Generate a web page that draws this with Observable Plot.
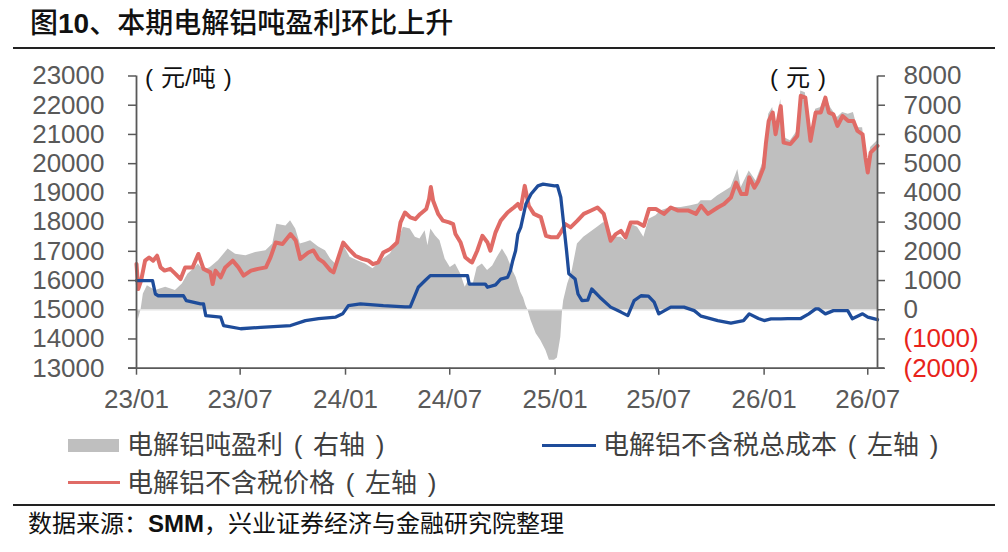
<!DOCTYPE html>
<html>
<head>
<meta charset="utf-8">
<script src="https://cdn.jsdelivr.net/npm/d3@7"></script>
<script src="https://cdn.jsdelivr.net/npm/@observablehq/plot@0.6"></script>
<style>
  html, body { margin: 0; padding: 0; background: #fff; }
  #wrap { position: relative; width: 1008px; height: 552px; overflow: hidden;
    font-family: "Liberation Sans", Arial, "Noto Sans CJK SC", sans-serif; }
  .abs { position: absolute; white-space: nowrap; line-height: 1; }
  #title { left: 30px; top: 10px; font-size: 28px; color: #111; font-weight: 500; }
  #title b { font-family: "Liberation Sans", Arial, sans-serif; }
  .hr { position: absolute; left: 13px; width: 982px; height: 1.5px; background: #222; }
  #chart { position: absolute; left: 0; top: 50px; }
  .unit { font-size: 24px; color: #111; }
  .leg { font-size: 26px; color: #404040; }
  .p { display: inline-block; width: 30px; text-align: center; font-family: "Liberation Sans", Arial, sans-serif; }
  .unit .p { width: 24px; }
  .sw { position: absolute; }
  #src { left: 28px; top: 512px; font-size: 24px; color: #111; }
  #src b { font-family: "Liberation Sans", Arial, sans-serif; }
</style>
</head>
<body>
<div id="wrap">
  <div id="title" class="abs">图<b>10</b>、本期电解铝吨盈利环比上升</div>
  <div class="hr" style="top:47px"></div>
  <div id="chart"></div>
  <div class="abs unit" style="left:137px; top:66px;"><span class="p">(</span>元/吨<span class="p">)</span></div>
  <div class="abs unit" style="left:762px; top:66px;"><span class="p">(</span>元<span class="p">)</span></div>

  <div class="sw" style="left:68px; top:439px; width:51px; height:13px; background:#BFBFBF;"></div>
  <div class="abs leg" style="left:127px; top:432px;">电解铝吨盈利<span class="p">(</span>右轴<span class="p">)</span></div>
  <div class="sw" style="left:542px; top:444px; width:54px; height:3px; background:#1E4C9A;"></div>
  <div class="abs leg" style="left:603px; top:432px;">电解铝不含税总成本<span class="p">(</span>左轴<span class="p">)</span></div>
  <div class="sw" style="left:68px; top:481px; width:52px; height:3px; background:#E06B66;"></div>
  <div class="abs leg" style="left:127px; top:470px;">电解铝不含税价格<span class="p">(</span>左轴<span class="p">)</span></div>

  <div class="hr" style="top:504px"></div>
  <div id="src" class="abs">数据来源：<b>SMM</b>，兴业证券经济与金融研究院整理</div>
</div>
<script>
// ---- data ----
const price = [
  ["2023-01-01",16570],["2023-01-04",15710],["2023-01-09",16000],["2023-01-16",16680],["2023-01-23",16790],
  ["2023-01-30",16680],["2023-02-06",16850],["2023-02-12",16450],["2023-02-19",16340],["2023-03-01",16400],
  ["2023-03-10",16230],["2023-03-19",16050],["2023-03-27",16450],["2023-04-09",16450],["2023-04-19",16910],
  ["2023-04-28",16400],["2023-05-10",16280],["2023-05-14",15880],["2023-05-19",16340],["2023-05-28",16110],
  ["2023-06-05",16450],["2023-06-18",16680],["2023-06-28",16450],["2023-07-07",16170],["2023-07-20",16340],
  ["2023-08-01",16400],["2023-08-15",16450],["2023-08-23",16790],["2023-09-01",17300],["2023-09-13",17250],
  ["2023-09-27",17590],["2023-10-06",17370],["2023-10-14",16740],["2023-10-28",16960],["2023-11-06",17030],
  ["2023-11-15",16740],["2023-11-24",16620],["2023-12-06",16340],["2023-12-11",16280],["2023-12-28",17300],
  ["2024-01-09",17030],["2024-01-18",16850],["2024-01-30",16740],["2024-02-10",16680],["2024-02-18",16560],
  ["2024-02-27",16620],["2024-03-07",16960],["2024-03-19",17080],["2024-03-31",17300],["2024-04-06",17990],
  ["2024-04-14",18330],["2024-04-23",18160],["2024-05-02",18100],["2024-05-10",18270],["2024-05-21",18450],
  ["2024-05-26",18800],["2024-05-29",19200],["2024-06-02",18730],["2024-06-11",18270],["2024-06-19",18050],
  ["2024-06-30",17990],["2024-07-07",17930],["2024-07-11",17590],["2024-07-20",17300],["2024-07-28",16800],
  ["2024-08-06",16650],["2024-08-09",16620],["2024-08-18",17020],["2024-08-27",17530],["2024-09-05",17300],
  ["2024-09-10",17020],["2024-09-19",17650],["2024-09-28",18050],["2024-10-10",18330],["2024-10-21",18500],
  ["2024-10-28",18620],["2024-11-02",18450],["2024-11-09",19240],["2024-11-16",18560],["2024-11-25",18280],
  ["2024-12-07",18170],["2024-12-16",17530],["2024-12-25",17480],["2025-01-05",17480],["2025-01-11",17650],
  ["2025-01-19",17930],["2025-01-28",17820],["2025-02-09",18050],["2025-02-20",18280],["2025-03-04",18390],
  ["2025-03-16",18500],["2025-03-27",18280],["2025-04-08",17360],["2025-04-17",17590],["2025-04-26",17700],
  ["2025-05-04",17480],["2025-05-13",17990],["2025-05-25",17990],["2025-06-05",17870],["2025-06-14",18450],
  ["2025-06-26",18450],["2025-07-10",18280],["2025-07-22",18500],["2025-08-03",18400],["2025-08-21",18400],
  ["2025-09-04",18280],["2025-09-13",18560],["2025-09-25",18280],["2025-10-12",18500],["2025-10-23",18620],
  ["2025-11-04",18840],["2025-11-13",19350],["2025-11-22",18960],["2025-12-01",18960],["2025-12-06",19530],
  ["2025-12-15",19180],["2025-12-22",19410],["2025-12-31",19870],["2026-01-04",20670],["2026-01-09",21460],
  ["2026-01-16",21750],["2026-01-21",21010],["2026-01-30",21970],["2026-02-04",20720],["2026-02-16",20670],
  ["2026-02-28",20950],["2026-03-06",22320],["2026-03-14",22260],["2026-03-23",20780],["2026-04-01",21750],
  ["2026-04-10",21750],["2026-04-18",22260],["2026-04-24",21750],["2026-05-02",21690],["2026-05-09",21290],
  ["2026-05-18",21630],["2026-05-28",21460],["2026-06-06",21460],["2026-06-13",21120],["2026-06-22",21000],
  ["2026-06-27",20210],["2026-07-01",19700],["2026-07-06",20380],["2026-07-18",20610]
];
const cost = [
  ["2023-01-01",16000],["2023-01-29",16000],["2023-02-03",15540],["2023-02-08",15480],["2023-03-24",15480],
  ["2023-03-29",15310],["2023-04-23",15200],["2023-04-28",15200],["2023-05-02",14800],["2023-05-28",14750],
  ["2023-06-02",14460],["2023-07-02",14350],["2023-08-06",14400],["2023-09-27",14460],["2023-10-23",14630],
  ["2023-11-15",14700],["2023-12-15",14750],["2023-12-27",14860],["2024-01-06",15140],["2024-01-27",15200],
  ["2024-03-07",15140],["2024-04-14",15100],["2024-04-23",15100],["2024-05-07",15770],["2024-05-19",16000],
  ["2024-05-28",16170],["2024-08-01",16170],["2024-08-04",15880],["2024-09-01",15880],["2024-09-05",15770],
  ["2024-09-19",15850],["2024-09-28",16050],["2024-10-10",16110],["2024-10-15",16340],["2024-10-19",16680],
  ["2024-10-24",17020],["2024-10-28",17590],["2024-11-02",17820],["2024-11-11",18620],["2024-11-20",18960],
  ["2024-12-02",19240],["2024-12-11",19300],["2024-12-31",19240],["2025-01-05",19250],["2025-01-11",18840],
  ["2025-01-16",17930],["2025-01-21",17020],["2025-01-25",16230],["2025-02-05",16050],["2025-02-10",15540],
  ["2025-02-17",15310],["2025-02-27",15330],["2025-03-06",15710],["2025-03-20",15430],["2025-04-08",15090],
  ["2025-04-26",14920],["2025-05-08",14800],["2025-05-19",15310],["2025-05-31",15480],["2025-06-13",15470],
  ["2025-06-23",15260],["2025-07-01",14860],["2025-07-22",15090],["2025-08-14",15090],["2025-09-01",14970],
  ["2025-09-13",14780],["2025-10-12",14630],["2025-11-04",14540],["2025-11-26",14630],["2025-12-06",14860],
  ["2025-12-22",14700],["2026-01-01",14630],["2026-01-13",14690],["2026-01-30",14690],["2026-02-11",14700],
  ["2026-03-06",14700],["2026-03-20",14860],["2026-04-01",15030],["2026-04-06",15030],["2026-04-18",14860],
  ["2026-05-02",14970],["2026-05-27",14970],["2026-06-04",14690],["2026-06-22",14860],["2026-07-01",14750],
  ["2026-07-18",14660]
];
const profit = [
  ["2023-01-01",400],["2023-01-04",-350],["2023-01-09",0],["2023-01-13",540],["2023-01-20",820],
  ["2023-02-03",660],["2023-02-21",770],["2023-03-10",660],["2023-03-22",880],["2023-04-01",1220],
  ["2023-04-14",1450],["2023-04-19",1570],["2023-04-28",1340],["2023-05-10",1450],["2023-05-24",1680],
  ["2023-06-05",1960],["2023-06-10",2080],["2023-06-23",1900],["2023-07-11",1850],["2023-07-28",1960],
  ["2023-08-15",2020],["2023-08-27",2250],["2023-09-03",2930],["2023-09-19",2870],["2023-09-27",3050],
  ["2023-10-06",2760],["2023-10-14",2250],["2023-10-23",2300],["2023-11-01",2360],["2023-11-15",2150],
  ["2023-11-27",2020],["2023-12-06",1740],["2023-12-18",1510],["2023-12-29",2190],["2024-01-09",1800],
  ["2024-01-22",1680],["2024-02-05",1570],["2024-02-18",1400],["2024-03-07",1740],["2024-03-19",1910],
  ["2024-03-31",2250],["2024-04-11",2820],["2024-04-23",2760],["2024-05-02",2480],["2024-05-10",2420],
  ["2024-05-19",2700],["2024-05-24",2190],["2024-05-29",2760],["2024-06-06",2530],["2024-06-14",2360],
  ["2024-06-23",1740],["2024-07-02",1450],["2024-07-11",1570],["2024-07-20",1230],["2024-07-28",770],
  ["2024-08-03",1000],["2024-08-10",800],["2024-08-18",1450],["2024-08-27",1570],["2024-09-05",1340],
  ["2024-09-14",1500],["2024-09-22",1790],["2024-10-01",2080],["2024-10-10",1790],["2024-10-19",1340],
  ["2024-10-25",1100],["2024-11-02",600],["2024-11-07",400],["2024-11-11",150],["2024-11-15",-30],
  ["2024-11-20",-370],["2024-11-29",-820],["2024-12-07",-1050],["2024-12-16",-1390],["2024-12-22",-1730],
  ["2024-12-31",-1730],["2025-01-05",-1650],["2025-01-11",-940],["2025-01-14",-30],["2025-01-16",310],
  ["2025-01-23",880],["2025-01-31",1340],["2025-02-09",2250],["2025-02-20",2480],["2025-03-04",2650],
  ["2025-03-16",2820],["2025-03-27",2990],["2025-04-04",2870],["2025-04-11",2480],["2025-04-26",2480],
  ["2025-05-04",2360],["2025-05-13",2930],["2025-05-25",2820],["2025-06-05",2480],["2025-06-14",3100],
  ["2025-06-26",3220],["2025-07-05",3390],["2025-07-22",3500],["2025-08-09",3500],["2025-08-26",3560],
  ["2025-09-08",3620],["2025-09-13",3730],["2025-10-01",3730],["2025-10-12",3900],["2025-10-26",4070],
  ["2025-11-04",4180],["2025-11-13",4640],["2025-11-16",4800],["2025-11-22",4180],["2025-12-06",4750],
  ["2025-12-18",4410],["2025-12-29",4980],["2026-01-04",5780],["2026-01-09",6690],["2026-01-16",6920],
  ["2026-01-21",6120],["2026-01-30",7200],["2026-02-04",5900],["2026-02-16",5780],["2026-02-28",6120],
  ["2026-03-06",7490],["2026-03-14",7430],["2026-03-23",5950],["2026-04-01",6860],["2026-04-10",6920],
  ["2026-04-18",7320],["2026-04-27",6920],["2026-05-09",6580],["2026-05-18",6750],["2026-05-28",6690],
  ["2026-06-06",6750],["2026-06-13",6230],["2026-06-22",6230],["2026-06-27",5380],["2026-07-01",4870],
  ["2026-07-06",5550],["2026-07-18",5780]
];
const leftTicks = [13000,14000,15000,16000,17000,18000,19000,20000,21000,22000,23000];
const rightTicksPos = [0,1000,2000,3000,4000,5000,6000,7000,8000];
const rightTicksNeg = [-2000,-1000];
const rightOffset = 15000; // right axis 0 sits at left-axis 15000
const xTickLabels = ["2023-01-01","2023-07-01","2024-01-01","2024-07-01","2025-01-01","2025-07-01","2026-01-01","2026-07-01"];
const xDomain = ["2023-01-01","2026-07-18"];

// ---- build ----
const toRows = arr => arr.map(([d, v]) => ({date: new Date(d), v}));
const priceRows = toRows(price), costRows = toRows(cost), profitRows = toRows(profit);
const fmtRight = d => { const v = d - rightOffset; return v < 0 ? `(${-v})` : `${v}`; };
const axisColor = "#595959";
const dom = xDomain.map(d => new Date(d));

const chart = Plot.plot({
  width: 1008,
  height: 370,
  marginLeft: 136,
  marginRight: 131,
  marginTop: 25.5,
  marginBottom: 52.3,
  style: {fontFamily: '"Liberation Sans", Arial, sans-serif', fontSize: "26px", color: axisColor, background: "transparent", overflow: "visible"},
  x: {type: "utc", domain: dom},
  y: {domain: [13000, 23000]},
  marks: [
    Plot.areaY(profitRows, {x: "date", y1: rightOffset, y2: d => d.v + rightOffset, fill: "#BFBFBF", curve: "linear"}),
    Plot.ruleY([rightOffset], {stroke: "#E4E4E4", strokeWidth: 1.5}),
    Plot.lineY(priceRows, {x: "date", y: "v", stroke: "#E06B66", strokeWidth: 4, strokeLinejoin: "round"}),
    Plot.lineY(costRows, {x: "date", y: "v", stroke: "#1E4C9A", strokeWidth: 3.3, strokeLinejoin: "round"}),
    Plot.axisY({anchor: "left", ticks: leftTicks, tickFormat: d3.format("d"), tickSize: 8, tickPadding: 24,
      stroke: axisColor, strokeWidth: 1.5, fill: axisColor, label: null}),
    Plot.axisY({anchor: "right", ticks: rightTicksPos.map(v => v + rightOffset), tickFormat: fmtRight, tickSize: 7, tickPadding: 19,
      stroke: axisColor, strokeWidth: 1.5, fill: axisColor, label: null}),
    Plot.axisY({anchor: "right", ticks: rightTicksNeg.map(v => v + rightOffset), tickFormat: fmtRight, tickSize: 7, tickPadding: 19,
      stroke: axisColor, strokeWidth: 1.5, fill: "#E8231B", label: null}),
    Plot.axisX({ticks: xTickLabels.map(d => new Date(d)), tickFormat: d3.utcFormat("%y/%m"), tickSize: 7, tickPadding: 14,
      stroke: axisColor, strokeWidth: 1.5, fill: axisColor, label: null}),
    Plot.ruleX(dom, {stroke: axisColor, strokeWidth: 1.8}),
    Plot.ruleY([13000], {stroke: axisColor, strokeWidth: 1.8, insetLeft: -8, insetRight: -7})
  ]
});
document.getElementById("chart").appendChild(chart);
</script>
</body>
</html>
